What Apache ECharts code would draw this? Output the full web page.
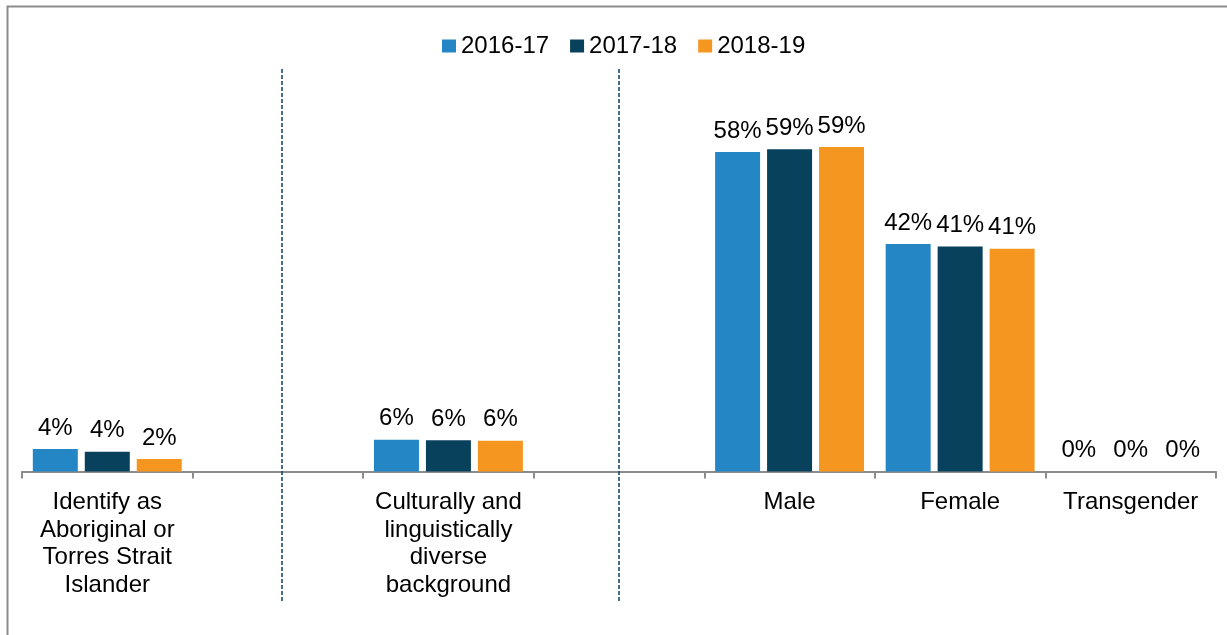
<!DOCTYPE html>
<html>
<head>
<meta charset="utf-8">
<script src="https://cdn.jsdelivr.net/npm/echarts@6/dist/echarts.min.js"></script>
<style>
  html, body { margin: 0; padding: 0; background: #ffffff; }
  #chart { width: 1227px; height: 635px; }
</style>
</head>
<body>
<div id="chart"></div>
<script>
// Client demographics by year (share of clients, %)
const categories = [
  'Identify as\nAboriginal or\nTorres Strait\nIslander',
  '',
  'Culturally and\nlinguistically\ndiverse\nbackground',
  ' ',
  'Male',
  'Female',
  'Transgender'
];
const seriesNames = ['2016-17', '2017-18', '2018-19'];
const values2016 = [4.1, null, 5.8, null, 58.4, 41.6, 0];
const values2017 = [3.6, null, 5.7, null, 58.9, 41.1, 0];
const values2018 = [2.3, null, 5.6, null, 59.3, 40.7, 0];
// Group separators, in category-slot units along the x axis
const separators = [1.52, 3.5];

const colors = ['#2586c6', '#08415c', '#f59620'];
const FONT = '"Liberation Sans", Arial, sans-serif';

const chart = echarts.init(document.getElementById('chart'), null, { renderer: 'canvas' });

function barSeries(name, data, color) {
  return {
    name: name,
    type: 'bar',
    xAxisIndex: 0,
    yAxisIndex: 0,
    data: data,
    barWidth: 45,
    barGap: '15.5%',
    itemStyle: { color: color },
    label: {
      show: true,
      position: 'top',
      distance: 9,
      color: '#000',
      fontFamily: FONT,
      fontSize: 24,
      formatter: p => Math.round(p.value) + '%'
    },
    emphasis: { disabled: true },
    animation: false
  };
}

chart.setOption({
  backgroundColor: '#ffffff',
  animation: false,
  color: colors,
  textStyle: { fontFamily: FONT },
  legend: {
    data: seriesNames,
    left: 437,
    top: 29,
    itemWidth: 14,
    itemHeight: 13,
    itemGap: 21,
    icon: 'rect',
    textStyle: { fontFamily: FONT, fontSize: 24, color: '#000' }
  },
  grid: [
    { left: 22, right: 11, top: 88.5, bottom: 163.5, containLabel: false },
    { left: 22, right: 11, top: 68, bottom: 34, containLabel: false }
  ],
  xAxis: [
    {
      type: 'category',
      gridIndex: 0,
      data: categories,
      axisLine: { lineStyle: { color: '#8c8c8c', width: 2 } },
      axisTick: { show: true, length: 7, lineStyle: { color: '#8c8c8c', width: 2 } },
      axisLabel: {
        interval: 0,
        margin: 17,
        color: '#000',
        fontFamily: FONT,
        fontSize: 24,
        lineHeight: 27.6,
        align: 'center'
      },
      splitLine: { show: false }
    },
    {
      type: 'value',
      gridIndex: 1,
      min: 0,
      max: 7,
      show: false
    }
  ],
  yAxis: [
    { type: 'value', gridIndex: 0, min: 0, max: 70, interval: 10, show: false },
    { type: 'value', gridIndex: 1, min: 0, max: 1, show: false }
  ],
  series: [
    barSeries(seriesNames[0], values2016, colors[0]),
    barSeries(seriesNames[1], values2017, colors[1]),
    barSeries(seriesNames[2], values2018, colors[2]),
    {
      name: 'separators',
      type: 'line',
      xAxisIndex: 1,
      yAxisIndex: 1,
      data: [],
      silent: true,
      markLine: {
        silent: true,
        symbol: ['none', 'none'],
        label: { show: false },
        lineStyle: { color: '#174a6c', width: 1.6, type: [4, 2] },
        data: separators.map(x => ({ xAxis: x }))
      }
    }
  ],
  graphic: [
    {
      type: 'polyline',
      shape: { points: [[7.5, 635], [7.5, 6.5], [1227, 6.5]] },
      style: { stroke: '#8c8c8c', lineWidth: 2, fill: null },
      silent: true
    }
  ]
});
</script>
</body>
</html>
